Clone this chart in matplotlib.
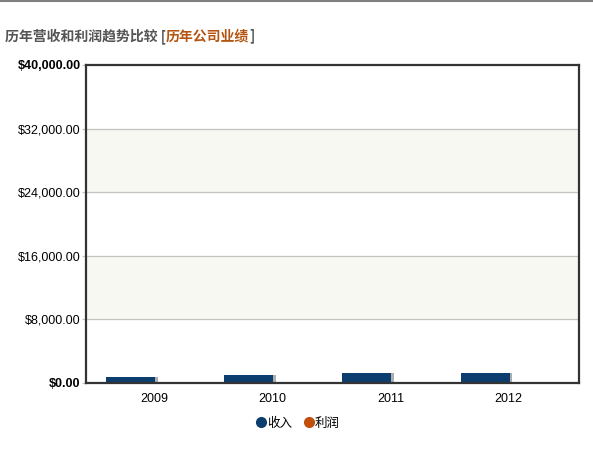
import matplotlib.pyplot as plt
import matplotlib.patheffects as pe
from matplotlib.ticker import FuncFormatter

years = ["2009", "2010", "2011", "2012"]
revenue = [750, 1000, 1250, 1300]
profit = [40, 60, 80, 70]
y_ticks = [0, 8000, 16000, 24000, 32000, 40000]

plt.rcParams['font.family'] = ['Liberation Sans', 'Noto Sans CJK SC', 'DejaVu Sans']

fig = plt.figure(figsize=(5.93, 4.51), dpi=100)
ax = fig.add_axes([0.145, 0.151, 0.831, 0.705])

# alternating bands
for i in range(len(y_ticks) - 1):
    if i % 2 == 1:
        ax.axhspan(y_ticks[i], y_ticks[i + 1], color='#f8f8f3', zorder=0)
for t in y_ticks[1:-1]:
    ax.axhline(t, color='#c4c4c0', lw=0.9, zorder=0.5)

x = range(len(years))
shadow = [pe.SimplePatchShadow(offset=(2, 0), shadow_rgbFace='#999999', alpha=0.8), pe.Normal()]
ax.bar([i - 0.2 for i in x], revenue, width=0.415, color='#0b3e6f', zorder=1,
       path_effects=shadow)
ax.bar([i + 0.2 for i in x], profit, width=0.415, color='#c0500a', zorder=1,
       path_effects=shadow)

ax.set_xlim(-0.576, 3.593)
ax.set_ylim(0, 40000)
ax.set_yticks(y_ticks)
ax.yaxis.set_major_formatter(FuncFormatter(lambda v, p: "${:,.2f}".format(v)))
ax.set_xticks(list(x))
ax.set_xticklabels(years)
ax.tick_params(axis='x', length=0, labelsize=9, colors='#000000', pad=7)
ax.tick_params(axis='y', length=3, width=0.9, color='#c4c4c0', labelsize=9,
               labelcolor='#000000', pad=1)
ax.get_yticklabels()[-1].set_fontweight('bold')
ax.get_yticklabels()[0].set_fontweight('bold')
for s in ax.spines.values():
    s.set_color('#333333')
    s.set_linewidth(1.6)

# title
fig.add_artist(plt.Line2D([0, 1], [0.998, 0.998], color='#808080', lw=1.5))
t1 = fig.text(0.008, 0.92, "历年营收和利润趋势比较 [", fontsize=10, fontweight='bold',
              color='#555555', va='center', family=['Noto Sans CJK SC', 'DejaVu Sans'])
fig.canvas.draw()
bb = t1.get_window_extent()
t2 = fig.text(bb.x1 / fig.bbox.width, 0.92, "历年公司业绩", fontsize=10, fontweight='bold',
              color='#b5540f', va='center', family=['Noto Sans CJK SC', 'DejaVu Sans'])
fig.canvas.draw()
bb2 = t2.get_window_extent()
fig.text((bb2.x1 + 0.5) / fig.bbox.width, 0.92, "]", fontsize=10, fontweight='bold',
         color='#555555', va='center', family=['Noto Sans CJK SC', 'DejaVu Sans'])

# legend
h1 = plt.Line2D([], [], marker='o', ls='', color='#0b3e6f', markersize=7)
h2 = plt.Line2D([], [], marker='o', ls='', color='#c0500a', markersize=7)
fig.legend([h1, h2], ["收入", "利润"], loc='center', bbox_to_anchor=(0.503, 0.062), ncol=2,
           frameon=False, handletextpad=0.1, columnspacing=0.9, handlelength=0.8,
           prop={'family': ['Noto Sans CJK SC', 'DejaVu Sans'], 'size': 9})

fig.savefig("out.png", dpi=100)
